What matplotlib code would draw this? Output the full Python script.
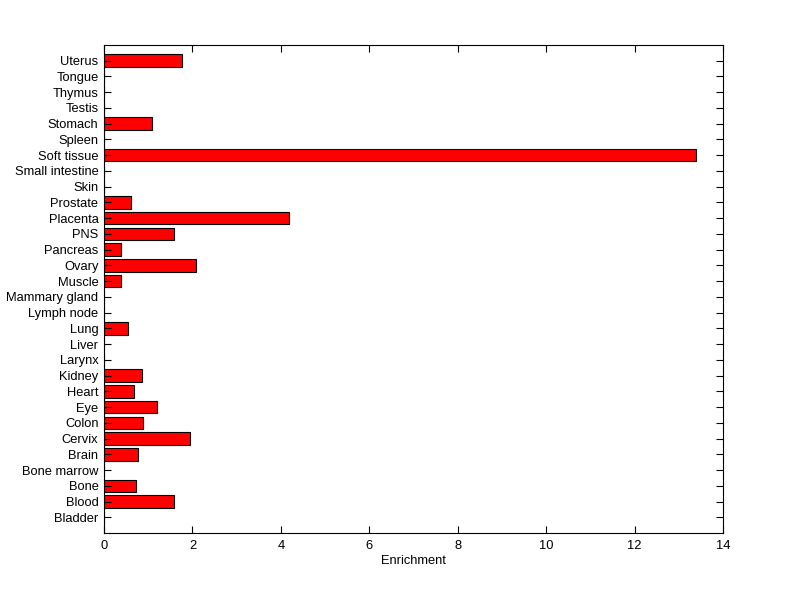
import matplotlib
matplotlib.use('Agg')
import matplotlib.pyplot as plt

tissues = ['Bladder', 'Blood', 'Bone', 'Bone marrow', 'Brain', 'Cervix', 'Colon',
           'Eye', 'Heart', 'Kidney', 'Larynx', 'Liver', 'Lung', 'Lymph node',
           'Mammary gland', 'Muscle', 'Ovary', 'Pancreas', 'PNS', 'Placenta',
           'Prostate', 'Skin', 'Small intestine', 'Soft tissue', 'Spleen',
           'Stomach', 'Testis', 'Thymus', 'Tongue', 'Uterus']
enrichment = [0, 1.59, 0.72, 0, 0.76, 1.94, 0.89,
              1.19, 0.67, 0.85, 0, 0, 0.55, 0,
              0, 0.39, 2.07, 0.39, 1.59, 4.18,
              0.60, 0, 0, 13.39, 0,
              1.09, 0, 0, 0, 1.76]
xticks = [0, 2, 4, 6, 8, 10, 12, 14]

plt.rcParams['font.family'] = ['Liberation Sans', 'DejaVu Sans']

fig = plt.figure(figsize=(8, 5.99), dpi=100)
ax = fig.add_axes([0.13, 0.110, 0.774, 0.815])

pos = list(range(1, len(tissues) + 1))
ax.barh(pos, enrichment, height=0.8, color='#ff0000', edgecolor='black', linewidth=0.8)

ax.set_xlim(0, 14)
ax.set_ylim(0, len(tissues) + 1)
ax.set_xticks(xticks)
ax.set_yticks(pos)
ax.set_yticklabels(tissues)
ax.set_xlabel('Enrichment', fontsize=9.3, labelpad=2)

ax.tick_params(direction='in', length=5, width=0.8, labelsize=9.3,
               top=True, right=True)
ax.tick_params(axis='x', pad=5)
ax.tick_params(axis='y', pad=4)
for s in ax.spines.values():
    s.set_linewidth(0.8)

fig.savefig('out.png', dpi=100)
